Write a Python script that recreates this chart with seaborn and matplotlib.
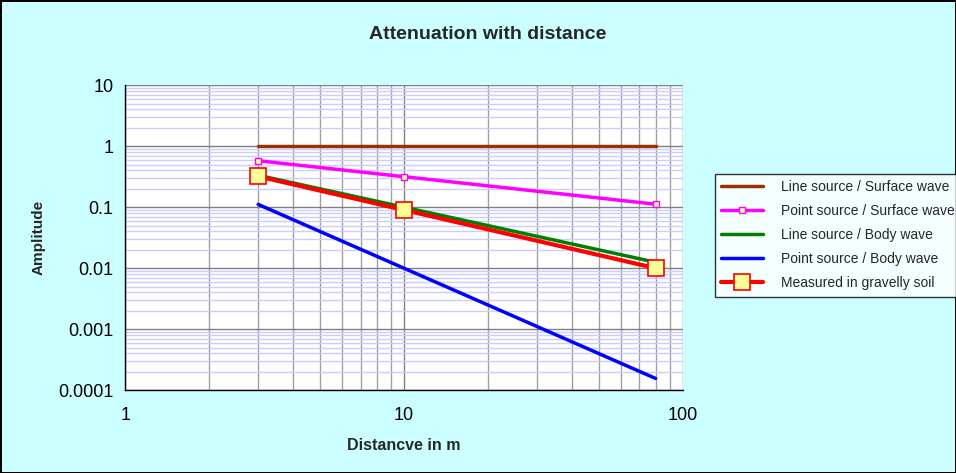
import matplotlib
matplotlib.use("Agg")
import matplotlib.pyplot as plt
import seaborn as sns
import pandas as pd
from matplotlib.ticker import LogLocator, FixedLocator, NullFormatter, FuncFormatter

sns.set_theme(style="white")
plt.rcParams['font.family'] = ['Liberation Sans', 'DejaVu Sans']

distance = [3, 10, 80]
line_surface = [1.0, 1.0, 1.0]
point_surface = [0.577, 0.316, 0.112]
line_body = [0.333, 0.1, 0.0125]
point_body = [0.111, 0.01, 0.000156]
measured = [0.32, 0.09, 0.01]

series_names = ["Line source / Surface wave", "Point source / Surface wave",
                "Line source / Body wave", "Point source / Body wave",
                "Measured in gravelly soil"]
series_values = [line_surface, point_surface, line_body, point_body, measured]

fig = plt.figure(figsize=(9.56, 4.73), dpi=100)
fig.patch.set_facecolor("#CCFFFF")
fig.patch.set_edgecolor("black")
fig.patch.set_linewidth(1.0)
ax = fig.add_axes([0.131, 0.175, 0.583, 0.645])
ax.set_facecolor("white")

styles = {
    "Line source / Surface wave": dict(color="#993300", lw=2.5, marker=None),
    "Point source / Surface wave": dict(color="#FF00FF", lw=2.5, marker="s", ms=4,
                                        mfc="#FFFF99", mec="#FF00FF", mew=1),
    "Line source / Body wave": dict(color="#008000", lw=2.5, marker=None),
    "Point source / Body wave": dict(color="#0000FF", lw=2.5, marker=None),
    "Measured in gravelly soil": dict(color="#FF0000", lw=3, marker="s", ms=12,
                                      mfc="#FFFF99", mec="#FF0000", mew=1.2),
}

for name, vals in zip(series_names, series_values):
    df = pd.DataFrame({"x": distance, "y": vals})
    st = styles[name]
    kw = dict(color=st["color"], linewidth=st["lw"], label=name)
    if st["marker"]:
        kw.update(marker=st["marker"], markersize=st["ms"], markerfacecolor=st["mfc"],
                  markeredgecolor=st["mec"], markeredgewidth=st["mew"])
    sns.lineplot(data=df, x="x", y="y", ax=ax, zorder=3, **kw)

ax.set_xscale("log")
ax.set_yscale("log")
ax.set_xlim(1, 100)
ax.set_ylim(0.0001, 10)

ax.xaxis.set_major_locator(FixedLocator([1, 10, 100]))
ax.xaxis.set_minor_locator(LogLocator(base=10, subs=range(2, 10)))
ax.xaxis.set_minor_formatter(NullFormatter())
ax.xaxis.set_major_formatter(FuncFormatter(lambda v, p: f"{v:g}"))
ax.yaxis.set_major_locator(FixedLocator([0.0001, 0.001, 0.01, 0.1, 1, 10]))
ax.yaxis.set_minor_locator(LogLocator(base=10, subs=range(2, 10)))
ax.yaxis.set_minor_formatter(NullFormatter())
ax.yaxis.set_major_formatter(FuncFormatter(lambda v, p: f"{v:g}" if v >= 0.001 else "0.0001"))

ax.grid(which="major", axis="both", color="#808080", lw=1.0, zorder=1)
ax.grid(which="minor", axis="x", color="#A0A0A0", lw=1.0, zorder=1)
ax.grid(which="minor", axis="y", color="#CCCCFF", lw=1.0, zorder=1)
ax.set_axisbelow(True)

for s in ["top", "right"]:
    ax.spines[s].set_visible(False)
for s in ["left", "bottom"]:
    ax.spines[s].set_color("black")
    ax.spines[s].set_linewidth(1.0)

ax.tick_params(axis="both", which="major", length=5, color="black", labelsize=13,
               labelcolor="black", direction="out")
ax.tick_params(axis="x", which="major", direction="inout", length=8, pad=8)
ax.tick_params(axis="both", which="minor", length=0)

ax.set_xlabel("Distancve in m", fontsize=11.5, fontweight="bold", labelpad=10)
ax.set_ylabel("Amplitude", fontsize=11, fontweight="bold", labelpad=9)
fig.suptitle("Attenuation with distance", x=0.51, y=0.945, fontsize=14, fontweight="bold")

leg = ax.legend(loc="upper left", bbox_to_anchor=(0.748, 0.632), bbox_transform=fig.transFigure,
                frameon=True, fancybox=False, edgecolor="black", facecolor="white",
                fontsize=10, handlelength=3.0, handletextpad=1.3, borderaxespad=0,
                labelspacing=0.72, borderpad=0.45)
leg.get_frame().set_linewidth(1.0)

fig.savefig("out.png", dpi=100, facecolor=fig.get_facecolor(), edgecolor="black")
